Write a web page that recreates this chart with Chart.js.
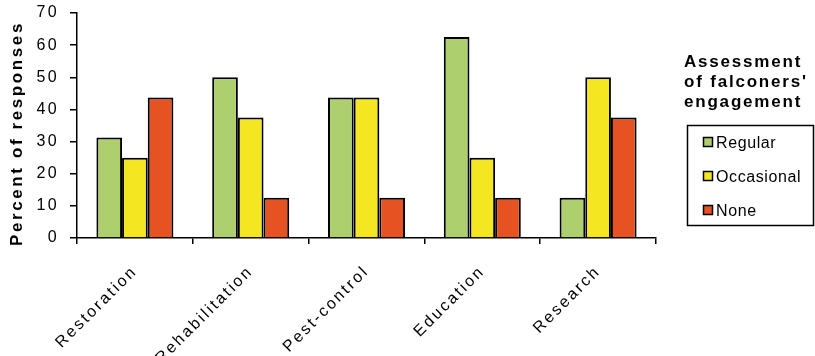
<!DOCTYPE html>
<html>
<head>
<meta charset="utf-8">
<script src="https://cdn.jsdelivr.net/npm/chart.js@4/dist/chart.umd.min.js"></script>
<style>
  html, body { margin: 0; padding: 0; background: #fff; }
  #wrap { width: 815px; height: 356px; }
</style>
</head>
<body>
<div id="wrap"><canvas id="c" width="815" height="356"></canvas></div>
<script>
// Survey categories and responses (percent of respondents)
const categories = ['Restoration', 'Rehabilitation', 'Pest-control', 'Education', 'Research'];
const regular    = [31.25, 50, 43.75, 62.5, 12.5];
const occasional = [25, 37.5, 43.75, 25, 50];
const none       = [43.75, 12.5, 12.5, 12.5, 37.5];
const yTicks     = [0, 10, 20, 30, 40, 50, 60, 70];
const yTitle     = 'Percent of responses';
const legendTitle = ['Assessment', 'of falconers\'', 'engagement'];

const FONT = '"Liberation Sans", Arial, sans-serif';
const AXIS_SPACING = '2.4px';

// Wide-set lettering for all axis text
const spacedText = {
  id: 'spacedText',
  beforeUpdate(chart) { chart.ctx.letterSpacing = AXIS_SPACING; },
  beforeDraw(chart) { chart.ctx.letterSpacing = AXIS_SPACING; }
};

// Rotated y-axis heading, set slightly below the plot's midline
const yHeading = {
  id: 'yHeading',
  afterDraw(chart) {
    const ctx = chart.ctx;
    const area = chart.chartArea;
    ctx.save();
    ctx.font = 'bold 17px ' + FONT;
    ctx.letterSpacing = '2.6px';
    ctx.fillStyle = '#000';
    ctx.textAlign = 'center';
    ctx.textBaseline = 'middle';
    ctx.translate(17, (area.top + area.bottom) / 2 + 8);
    ctx.rotate(-Math.PI / 2);
    ctx.fillText(yTitle, 0, 0);
    ctx.restore();
  }
};

// Boxed legend with a bold heading, drawn in the right margin
const boxedLegend = {
  id: 'boxedLegend',
  afterDraw(chart) {
    const ctx = chart.ctx;
    ctx.save();
    ctx.fillStyle = '#000';
    ctx.font = 'bold 17px ' + FONT;
    ctx.letterSpacing = '1.8px';
    ctx.textBaseline = 'alphabetic';
    ctx.textAlign = 'left';
    legendTitle.forEach((t, i) => ctx.fillText(t, 684, 67 + i * 20));

    const bx = 687.5, by = 125.5, bw = 126, bh = 100;
    ctx.lineWidth = 1.5;
    ctx.strokeStyle = '#000';
    ctx.strokeRect(bx, by, bw, bh);

    ctx.font = '16px ' + FONT;
    ctx.letterSpacing = '0.6px';
    ctx.textBaseline = 'middle';
    chart.data.datasets.forEach((ds, i) => {
      const cy = 142 + i * 34;
      ctx.fillStyle = ds.backgroundColor;
      ctx.fillRect(703.5, cy - 4.5, 9, 9);
      ctx.lineWidth = 1.5;
      ctx.strokeRect(703.5, cy - 4.5, 9, 9);
      ctx.fillStyle = '#000';
      ctx.fillText(ds.label, 716, cy + 1.5);
    });
    ctx.restore();
  }
};

new Chart(document.getElementById('c'), {
  type: 'bar',
  data: {
    labels: categories,
    datasets: [
      { label: 'Regular',    data: regular,    backgroundColor: '#AECF6E' },
      { label: 'Occasional', data: occasional, backgroundColor: '#F4E621' },
      { label: 'None',       data: none,       backgroundColor: '#E65222' }
    ]
  },
  options: {
    responsive: false,
    animation: false,
    devicePixelRatio: 1,
    layout: { padding: { top: 13, right: 159, left: 8, bottom: 0 } },
    datasets: {
      bar: {
        borderColor: '#000',
        borderWidth: 2,
        categoryPercentage: 0.665,
        barPercentage: 1
      }
    },
    plugins: {
      legend: { display: false },
      tooltip: { enabled: false }
    },
    scales: {
      x: {
        afterFit(scale) {
          scale.height = 118;
          scale.paddingLeft = 0;
          scale.paddingRight = 0;
        },
        grid: {
          display: true,
          drawOnChartArea: false,
          offset: true,
          color: '#000',
          tickLength: 6,
          lineWidth: 1.5
        },
        border: { color: '#000', width: 1.5 },
        ticks: {
          color: '#000',
          font: { family: FONT, size: 16 },
          minRotation: 45,
          maxRotation: 45,
          autoSkip: false,
          padding: 18
        }
      },
      y: {
        min: 0,
        max: 70,
        afterFit(scale) {
          scale.width = 69;
          scale.paddingTop = 0;
          scale.paddingBottom = 0;
        },
        afterBuildTicks(scale) { scale.ticks = yTicks.map(v => ({ value: v })); },
        grid: {
          display: true,
          drawOnChartArea: false,
          color: '#000',
          tickLength: 7,
          lineWidth: 1.5
        },
        border: { color: '#000', width: 1.5 },
        ticks: {
          color: '#000',
          font: { family: FONT, size: 16 },
          padding: 11
        },
        title: { display: false }
      }
    }
  },
  plugins: [spacedText, yHeading, boxedLegend]
});
</script>
</body>
</html>
